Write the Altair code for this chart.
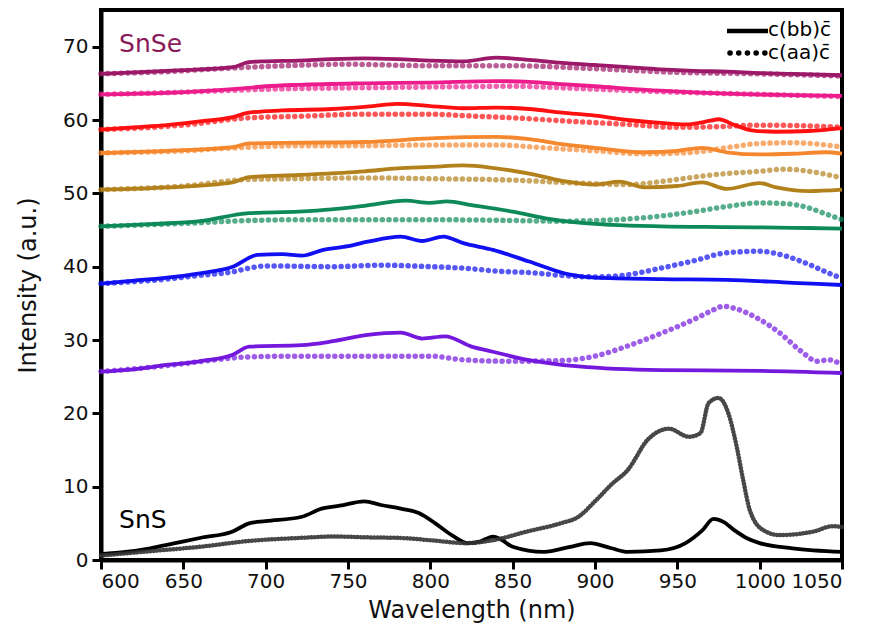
import altair as alt
import pandas as pd

# ---------------- data ----------------
# SnSe series (top to bottom), solid = c(bb)c̄, dotted = c(aa)c̄
s1_wl = [600, 620, 640, 660, 680, 690, 700, 720, 740, 760, 780, 800, 820, 840, 860, 880, 900, 920, 940, 960, 980, 1000, 1020, 1050]
s1_val = [66.3, 66.5, 66.7, 66.9, 67.2, 67.9, 68.0, 68.1, 68.3, 68.4, 68.3, 68.1, 68.0, 68.5, 68.2, 67.8, 67.5, 67.2, 66.9, 66.7, 66.6, 66.4, 66.3, 66.1]
d1_wl = [600, 640, 680, 700, 750, 800, 850, 900, 950, 1000, 1050]
d1_val = [66.3, 66.6, 67.1, 67.3, 67.6, 67.4, 67.4, 67.0, 66.5, 66.3, 66.0]

s2_wl = [600, 640, 680, 700, 720, 760, 800, 840, 860, 880, 900, 940, 980, 1020, 1050]
s2_val = [63.5, 63.7, 64.2, 64.6, 64.8, 65.0, 65.1, 65.3, 65.2, 64.9, 64.6, 64.0, 63.6, 63.4, 63.3]
d2_wl = [600, 650, 700, 760, 800, 850, 900, 950, 1000, 1050]
d2_val = [63.5, 63.8, 64.2, 64.4, 64.5, 64.6, 64.2, 63.8, 63.5, 63.2]

s3_wl = [600, 620, 640, 660, 680, 690, 710, 740, 760, 780, 800, 820, 840, 860, 880, 900, 920, 940, 955, 970, 975, 985, 995, 1010, 1030, 1050]
s3_val = [58.7, 59.0, 59.3, 59.8, 60.4, 61.0, 61.3, 61.5, 61.8, 62.2, 61.9, 61.6, 61.7, 61.5, 61.0, 60.6, 60.0, 59.6, 59.4, 59.9, 60.1, 59.3, 58.6, 58.4, 58.5, 58.9]
d3_wl = [600, 650, 690, 720, 760, 800, 820, 850, 880, 920, 950, 975, 1000, 1030, 1050]
d3_val = [58.7, 59.3, 60.3, 60.5, 60.8, 60.8, 60.6, 60.3, 59.9, 59.4, 59.0, 59.1, 59.3, 59.2, 59.0]

s4_wl = [600, 640, 680, 690, 720, 760, 800, 840, 860, 880, 900, 930, 950, 965, 980, 1000, 1020, 1040, 1050]
s4_val = [55.5, 55.8, 56.3, 56.8, 56.9, 57.0, 57.5, 57.7, 57.4, 56.7, 56.2, 55.6, 55.8, 56.2, 55.6, 55.3, 55.4, 55.6, 55.4]
d4_wl = [600, 650, 690, 720, 760, 800, 840, 870, 900, 930, 960, 985, 1000, 1020, 1040, 1050]
d4_val = [55.5, 55.8, 56.3, 56.5, 56.5, 56.6, 56.6, 56.2, 55.8, 55.4, 55.6, 56.4, 56.8, 56.9, 56.6, 56.3]

s5_wl = [600, 640, 680, 690, 720, 760, 780, 800, 820, 840, 860, 880, 900, 915, 930, 950, 965, 980, 1000, 1010, 1030, 1050]
s5_val = [50.5, 50.8, 51.5, 52.2, 52.5, 53.0, 53.4, 53.6, 53.8, 53.4, 52.7, 51.7, 51.2, 51.6, 50.8, 51.0, 51.5, 50.6, 51.4, 50.8, 50.3, 50.5]
d5_wl = [600, 650, 690, 720, 760, 800, 850, 880, 900, 920, 940, 960, 980, 1000, 1015, 1030, 1050]
d5_val = [50.5, 51.0, 51.9, 52.0, 52.1, 52.0, 51.8, 51.5, 51.3, 51.2, 51.6, 52.2, 52.7, 53.0, 53.3, 53.0, 52.1]

s6_wl = [600, 630, 660, 690, 720, 740, 760, 785, 800, 810, 825, 850, 870, 890, 910, 940, 980, 1020, 1050]
s6_val = [45.5, 45.8, 46.2, 47.3, 47.5, 47.8, 48.3, 49.0, 48.7, 48.9, 48.4, 47.5, 46.6, 46.0, 45.7, 45.5, 45.4, 45.3, 45.2]
d6_wl = [600, 650, 690, 720, 800, 850, 880, 900, 920, 940, 960, 980, 1000, 1015, 1030, 1040, 1050]
d6_val = [45.5, 45.9, 46.3, 46.4, 46.4, 46.3, 46.2, 46.3, 46.5, 46.9, 47.5, 48.2, 48.7, 48.6, 48.0, 47.2, 46.4]

s7_wl = [600, 620, 640, 660, 680, 695, 710, 722, 735, 750, 762, 782, 795, 808, 820, 838, 860, 885, 900, 940, 980, 1020, 1050]
s7_val = [37.7, 38.1, 38.5, 39.1, 40.0, 41.6, 41.7, 41.5, 42.3, 42.8, 43.4, 44.1, 43.5, 44.1, 43.2, 42.3, 40.7, 38.9, 38.5, 38.3, 38.2, 37.8, 37.5]
d7_wl = [600, 640, 660, 680, 690, 700, 740, 770, 800, 820, 840, 860, 880, 900, 920, 940, 960, 980, 1000, 1015, 1030, 1040, 1050]
d7_val = [37.7, 38.3, 38.8, 39.3, 39.8, 40.1, 40.0, 40.2, 40.0, 39.8, 39.4, 39.2, 38.8, 38.6, 38.9, 39.8, 40.8, 41.9, 42.1, 41.5, 40.3, 39.3, 38.4]

s8_wl = [600, 620, 640, 660, 680, 690, 722, 740, 762, 782, 795, 809, 825, 838, 859, 890, 940, 1000, 1050]
s8_val = [25.7, 26.0, 26.6, 27.1, 28.0, 29.1, 29.3, 29.8, 30.7, 31.0, 30.2, 30.5, 29.1, 28.4, 27.3, 26.4, 25.9, 25.8, 25.5]
d8_wl = [600, 640, 670, 690, 720, 800, 820, 850, 880, 900, 920, 940, 960, 970, 978, 985, 1000, 1012, 1025, 1035, 1042, 1050]
d8_val = [25.7, 26.5, 27.3, 27.7, 27.8, 27.8, 27.3, 27.1, 27.2, 27.8, 29.2, 30.9, 32.8, 33.9, 34.6, 34.3, 32.8, 31.0, 28.5, 27.1, 27.3, 26.6]

# SnS
s9_wl = [600, 615, 630, 645, 660, 680, 690, 700, 722, 734, 745, 760, 770, 782, 793, 803, 813, 823, 830, 838, 843, 850, 869, 885, 897, 910, 920, 940, 955, 965, 972, 978, 985, 992, 1000, 1020, 1050]
s9_val = [0.8, 1.1, 1.6, 2.3, 3.0, 3.9, 5.0, 5.3, 5.9, 7.0, 7.4, 8.0, 7.5, 7.0, 6.4, 5.0, 3.4, 2.3, 2.5, 3.2, 2.8, 1.8, 1.1, 1.8, 2.3, 1.6, 1.1, 1.3, 2.3, 4.0, 5.6, 5.2, 4.0, 3.0, 2.3, 1.6, 1.1]
d9_wl = [600, 630, 660, 690, 720, 742, 760, 782, 800, 822, 838, 859, 879, 890, 900, 910, 920, 932, 945, 957, 964, 969, 975, 981, 986, 990, 994, 1002, 1012, 1033, 1044, 1050]
d9_val = [0.6, 1.2, 1.8, 2.6, 3.0, 3.2, 3.1, 3.0, 2.7, 2.3, 2.7, 3.9, 5.0, 5.9, 8.0, 10.3, 12.3, 16.4, 17.9, 16.8, 17.3, 21.4, 22.1, 20.0, 15.5, 10.9, 6.8, 4.1, 3.4, 3.9, 4.6, 4.5]

series_names = ["SnSe-1", "SnSe-2", "SnSe-3", "SnSe-4", "SnSe-5", "SnSe-6", "SnSe-7", "SnSe-8", "SnS"]
series_colors = ["#9C1868", "#EC1C8C", "#FF1010", "#F5872E", "#B3811C", "#0E8A5A", "#1010F2", "#7418DE", "#000000"]

solid_sets = [(s1_wl, s1_val), (s2_wl, s2_val), (s3_wl, s3_val), (s4_wl, s4_val), (s5_wl, s5_val),
              (s6_wl, s6_val), (s7_wl, s7_val), (s8_wl, s8_val), (s9_wl, s9_val)]
dotted_sets = [(d1_wl, d1_val), (d2_wl, d2_val), (d3_wl, d3_val), (d4_wl, d4_val), (d5_wl, d5_val),
               (d6_wl, d6_val), (d7_wl, d7_val), (d8_wl, d8_val), (d9_wl, d9_val)]

label_text = ["SnSe", "SnS"]
label_x = [611, 611]
label_y = [70.3, 5.4]
label_color = ["#8A1A5C", "#000000"]

legend_labels = ["c(bb)c\u0304", "c(aa)c\u0304"]

# ---------------- build tables ----------------
rows = []
for name, (wl, val) in zip(series_names, solid_sets):
    for w, v in zip(wl, val):
        rows.append({"wl": w, "val": v, "series": name, "kind": "solid"})
for name, (wl, val) in zip(series_names, dotted_sets):
    for w, v in zip(wl, val):
        rows.append({"wl": w, "val": v, "series": name, "kind": "dotted"})
df = pd.DataFrame(rows)

FONT = "DejaVu Sans"

xs = alt.Scale(domain=[600, 1050], nice=False)
ys = alt.Scale(domain=[0, 75], nice=False)
cs = alt.Scale(domain=series_names, range=series_colors)

x_enc = alt.X("wl:Q", scale=xs, title="Wavelength (nm)",
              axis=alt.Axis(values=list(range(600, 1051, 50)), grid=False, format="d",
                            labelPadding=2, titleBaseline="alphabetic", titleY=57))
y_enc = alt.Y("val:Q", scale=ys, title="Intensity (a.u.)",
              axis=alt.Axis(values=list(range(0, 71, 10)), grid=False, format="d"))

base = alt.Chart(df).encode(
    x=x_enc, y=y_enc,
    color=alt.Color("series:N", scale=cs, legend=None),
    detail="series:N",
)

solid = base.transform_filter(alt.datum.kind == "solid").mark_line(
    strokeWidth=3.8, interpolate="monotone", strokeJoin="round")

dotted = base.transform_filter(
    (alt.datum.kind == "dotted") & (alt.datum.series != "SnS")
).mark_line(strokeWidth=5.5, strokeDash=[0.1, 6.6], strokeCap="round",
            opacity=0.7, interpolate="monotone")

dotted_sns = alt.Chart(df).transform_filter(
    (alt.datum.kind == "dotted") & (alt.datum.series == "SnS")
).mark_line(strokeWidth=4.5, strokeDash=[0.1, 3.2], strokeCap="round",
            color="#333333", opacity=0.9, interpolate="monotone").encode(x=x_enc, y=y_enc)

lab_df = pd.DataFrame({"t": label_text, "x": label_x, "y": label_y, "c": label_color})
labels = alt.Chart(lab_df).mark_text(align="left", baseline="middle", fontSize=25,
                                      font=FONT).encode(
    x=alt.X("x:Q", scale=xs), y=alt.Y("y:Q", scale=ys),
    text="t:N", color=alt.Color("c:N", scale=None))

leg_df = pd.DataFrame({"t": legend_labels})
leg_solid = alt.Chart(leg_df.iloc[[0]]).mark_rule(color="black", strokeWidth=4.5).encode(
    x=alt.value(626), x2=alt.value(667), y=alt.value(21))
leg_dots = alt.Chart(leg_df.iloc[[1]]).mark_rule(color="black", strokeWidth=5.5,
                                                  strokeDash=[0.1, 8.6], strokeCap="round").encode(
    x=alt.value(629), x2=alt.value(666), y=alt.value(43))
leg_text1 = alt.Chart(leg_df.iloc[[0]]).mark_text(align="left", baseline="middle", fontSize=20,
                                                   font=FONT).encode(
    x=alt.value(667), y=alt.value(20), text="t:N")
leg_text2 = alt.Chart(leg_df.iloc[[1]]).mark_text(align="left", baseline="middle", fontSize=20,
                                                   font=FONT).encode(
    x=alt.value(667), y=alt.value(43), text="t:N")

chart = alt.layer(solid, dotted, dotted_sns, labels, leg_solid, leg_dots, leg_text1, leg_text2).properties(
    width=741, height=550,
    autosize=alt.AutoSizeParams(type="none"),
    padding={"left": 101, "top": 10, "right": 36, "bottom": 80},
    background="white",
).configure_view(
    stroke="black", strokeWidth=4,
).configure_axis(
    domainColor="black", domainWidth=4, tickColor="black", tickWidth=3, tickSize=9,
    labelFont=FONT, labelFontSize=20, labelColor="#111111", labelPadding=4,
    titleFont=FONT, titleFontSize=24, titleFontWeight="normal", titleColor="#111111",
).configure_axisY(titlePadding=22)

chart.save("out.html", embed_options={"renderer": "svg", "actions": False})
